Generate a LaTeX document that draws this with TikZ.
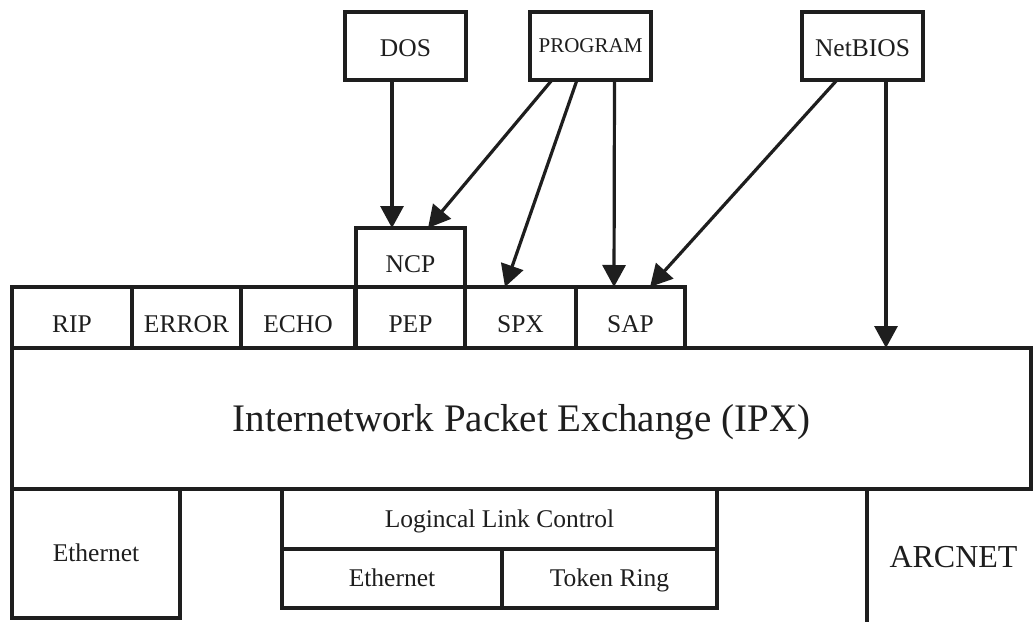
\documentclass[tikz,border=0pt]{standalone}
\usepackage{fontspec}
\setmainfont{Liberation Serif}
\usetikzlibrary{arrows.meta}
\definecolor{ink}{RGB}{30,30,30}
\tikzset{
  blk/.style={draw=ink, line width=3.2pt, rectangle, inner sep=0pt, outer sep=0pt,
              text=ink, font=\fontsize{25.5}{30}\selectfont,
              text height=22pt, text depth=5.2pt},
  lowtext/.style={text height=32pt, text depth=2.2pt},
  midtext/.style={text height=26pt, text depth=4.2pt},
  feed/.style={draw=ink, line width=3.2pt, -{Triangle[width=23pt,length=22pt]}},
}
\begin{document}
\begin{tikzpicture}[x=1pt, y=-1pt]
\clip (0,0) rectangle (1033,621);
\fill[white] (0,0) rectangle (1033,621);

% upper layer: applications
\node[blk, midtext, minimum width=121pt, minimum height=68pt] (dos) at (405.5,46) {DOS};
\node[blk, minimum width=121pt, minimum height=68pt, font=\fontsize{21}{25}\selectfont,
      text height=18pt, text depth=4.1pt] (prog) at (590.5,46) {PROGRAM};
\node[blk, midtext, minimum width=121pt, minimum height=68pt] (nb) at (862.5,46) {NetBIOS};

% protocol row above IPX
\node[blk, lowtext, minimum width=109pt, minimum height=59pt] (ncp) at (410.5,257.5) {NCP};
\node[blk, lowtext, minimum width=120pt, minimum height=61pt] (rip) at (72,317.5) {RIP};
\node[blk, lowtext, minimum width=109pt, minimum height=61pt] (err) at (186.5,317.5) {ERROR};
\node[blk, lowtext, minimum width=114pt, minimum height=61pt] (echo) at (298,317.5) {ECHO};
\node[blk, lowtext, minimum width=109pt, minimum height=61pt] (pep) at (410.5,317.5) {PEP};
\node[blk, lowtext, minimum width=111pt, minimum height=61pt] (spx) at (520.5,317.5) {SPX};
\node[blk, lowtext, minimum width=109pt, minimum height=61pt] (sap) at (630.5,317.5) {SAP};

% IPX layer
\node[blk, minimum width=1019pt, minimum height=141pt, font=\fontsize{39}{46}\selectfont,
      text height=33pt, text depth=7.3pt] (ipx) at (521.5,418.5) {Internetwork Packet Exchange (IPX)};

% link layer
\node[blk, minimum width=168pt, minimum height=129pt] (eth1) at (96,553.5) {Ethernet};
\node[blk, minimum width=435pt, minimum height=60pt] (llc) at (499.5,519) {Logincal Link Control};
\node[blk, minimum width=220pt, minimum height=59pt] (eth2) at (392,578.5) {Ethernet};
\node[blk, minimum width=215pt, minimum height=59pt] (tr) at (609.5,578.5) {Token Ring};
\node[blk, minimum width=173pt, minimum height=135pt, font=\fontsize{32}{38}\selectfont,
      text height=28pt, text depth=6.9pt] (arc) at (953.5,556.5) {ARCNET};

% request paths
\draw[feed] ([xshift=-13.5pt]dos.south) -- ([xshift=-18.5pt]ncp.north);
\draw[feed] ([xshift=-38.5pt]prog.south) -- ([xshift=17.5pt]ncp.north);
\draw[feed] ([xshift=-13.5pt]prog.south) -- ([xshift=-15.5pt]spx.north);
\draw[feed] ([xshift=24pt]prog.south) -- ([xshift=-16.5pt]sap.north);
\draw[feed] ([xshift=-25.5pt]nb.south) -- ([xshift=19.5pt]sap.north);
\coordinate (nbv) at ([xshift=23.5pt]nb.south);
\draw[feed] (nbv) -- (nbv |- ipx.north);
\end{tikzpicture}
\end{document}
